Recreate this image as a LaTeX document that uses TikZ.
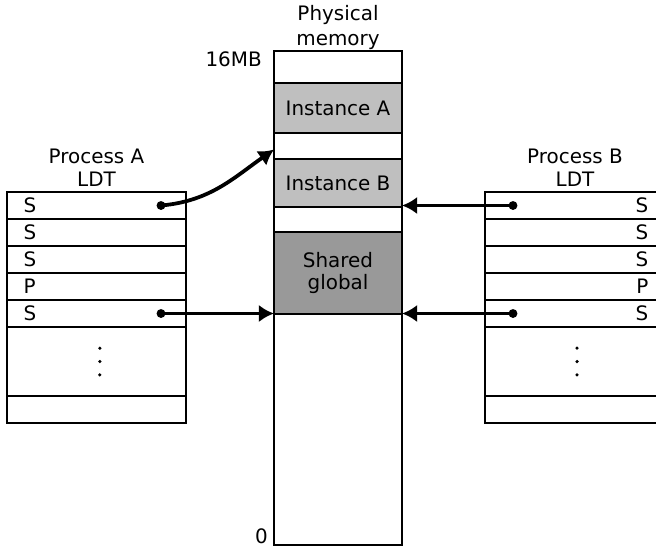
\documentclass[tikz,border=0pt]{standalone}
\usepackage{fontspec}
\setmainfont{DejaVu Sans}
\usetikzlibrary{arrows.meta,positioning}

\begin{document}
\begin{tikzpicture}[>=Latex, x=0.03cm, y=-0.03cm,
  font=\fontsize{17}{19}\selectfont,
  band/.style={draw, line width=1pt, minimum width=3.84cm, inner sep=0pt, outer sep=0pt},
  instband/.style={band, fill=black!25},
  sharedband/.style={band, fill=black!40, align=center},
  slotA/.style={draw, line width=1pt, text width=4.37cm, inner xsep=0.5cm, inner ysep=0pt,
                minimum height=0.81cm, outer sep=0pt, align=left},
  slotB/.style={slotA, text width=4.4cm, align=right},
  ptr/.style={-{Latex[length=13pt,width=15pt]}, line width=3.2pt}]
  \useasboundingbox (0,0) rectangle (656,549);
  \clip (0,0) rectangle (656,549);
  % Middle: physical memory column, top to bottom
  \node[band, minimum height=0.96cm, anchor=north west] (memtop) at (274,51) {};
  \node[instband, minimum height=1.5cm, below=0pt of memtop] (instA) {Instance A};
  \node[band, minimum height=0.78cm, below=0pt of instA] (gapA) {};
  \node[instband, minimum height=1.44cm, below=0pt of gapA] (instB) {Instance B};
  \node[band, minimum height=0.75cm, below=0pt of instB] (gapB) {};
  \node[sharedband, minimum height=2.46cm, below=0pt of gapB] (shared) {Shared\\global};
  \node[band, minimum height=6.93cm, below=0pt of shared] (memrest) {};
  \node[above=0pt of memtop, align=center, inner sep=1pt] (memlbl) {Physical\\[2pt]memory};
  \node[anchor=east, inner sep=0pt] (topaddr) at ([xshift=-0.36cm, yshift=-0.24cm]memtop.north west) {16MB};
  \node[anchor=base east, inner sep=0pt] (botaddr) at ([xshift=-0.18cm, yshift=0.06cm]memrest.south west) {0};
  % Left and right: the two descriptor tables
  \foreach \n/\t in {1/S,2/S,3/S,4/P,5/S} {
    \node[slotA] (a\n) at (96.5, {178.5+27*\n}) {\t};
    \node[slotB] (b\n) at (575, {178.5+27*\n}) {\t};
  }
  \node[slotA, minimum height=2.07cm, below=0pt of a5] (adots) {};
  \node[slotA, below=0pt of adots] (aend) {};
  \node[slotB, minimum height=2.07cm, below=0pt of b5] (bdots) {};
  \node[slotB, below=0pt of bdots] (bend) {};
  \node[above=0.05cm of a1, align=center] (ldtA) {Process A\\LDT};
  \node[above=0.05cm of b1, align=center] (ldtB) {Process B\\LDT};
  \foreach \d in {-1,0,1} {
    \fill ([xshift=0.1cm, yshift=\d*0.4cm]adots.center) circle (1.5pt);
    \fill ([xshift=0.06cm, yshift=\d*0.4cm]bdots.center) circle (1.5pt);
  }
  % Selectors pointing into memory
  \coordinate (pa1) at ([xshift=1.935cm]a1.center);
  \coordinate (pa5) at ([xshift=1.935cm]a5.center);
  \coordinate (pb1) at ([xshift=-1.86cm]b1.center);
  \coordinate (pb5) at ([xshift=-1.86cm]b5.center);
  \foreach \p in {pa1,pa5,pb1,pb5}
    \fill (\p) circle (3.8pt);
  \draw[ptr] (pa1) to[out=5, in=215] ([yshift=-3pt]gapA.west);
  \draw[ptr] (pa5) -- (pa5 -| shared.west);
  \draw[ptr] (pb1) -- (pb1 -| instB.east);
  \draw[ptr] (pb5) -- (pb5 -| shared.east);
\end{tikzpicture}
\end{document}
